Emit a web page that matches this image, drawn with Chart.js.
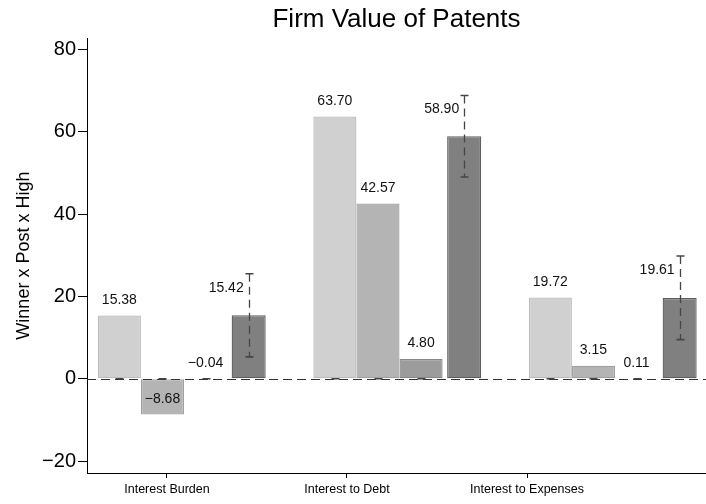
<!DOCTYPE html>
<html><head><meta charset="utf-8">
<script src="https://cdn.jsdelivr.net/npm/chart.js@4.4.1/dist/chart.umd.min.js"></script>
<style>html,body{margin:0;padding:0;background:#fff}#wrap{width:706px;height:504px}</style>
</head><body><div id="wrap"><canvas id="c" width="706" height="504"></canvas></div>
<script>
const categories = ['Interest Burden', 'Interest to Debt', 'Interest to Expenses'];
const series1 = [15.38, 63.70, 19.72];
const series2 = [-8.68, 42.57, 3.15];
const series3 = [-0.04, 4.80, 0.11];
const series4 = [15.42, 58.90, 19.61];
const ciLow1 = [0, 0, 0],  ciHigh1 = [0, 0, 0];
const ciLow2 = [0, 0, 0],  ciHigh2 = [0, 0, 0];
const ciLow3 = [0, 0, 0],  ciHigh3 = [0, 0, 0];
const ciLow4 = [5.3, 49.0, 9.5];
const ciHigh4 = [25.5, 68.8, 29.8];
const yTicks = [-20, 0, 20, 40, 60, 80];

const FONT = "'Liberation Sans', Arial, Helvetica, sans-serif";
const allSeries = [series1, series2, series3, series4];
const allLow = [ciLow1, ciLow2, ciLow3, ciLow4];
const allHigh = [ciHigh1, ciHigh2, ciHigh3, ciHigh4];
const fills = ['#d0d0d0', '#b4b4b4', '#9c9c9c', '#808080'];
const borders = ['#bcbcbc', '#a0a0a0', '#888888', '#5e5e5e'];
const barPct = [1, 1, 1, 0.79];

const fmt = v => { const s = Math.abs(v).toFixed(2); return v < 0 ? '\u2212' + s : s; };

const overlay = {
  id: 'overlay',
  afterDatasetsDraw(chart) {
    const ctx = chart.ctx, ys = chart.scales.y, area = chart.chartArea;
    ctx.save();
    const y0 = Math.round(ys.getPixelForValue(0)) + 0.5;
    ctx.strokeStyle = '#333'; ctx.lineWidth = 1; ctx.setLineDash([9, 5]);
    ctx.beginPath(); ctx.moveTo(area.left, y0); ctx.lineTo(area.right, y0); ctx.stroke();
    chart.data.datasets.forEach((ds, d) => {
      const meta = chart.getDatasetMeta(d);
      meta.data.forEach((bar, i) => {
        const x = Math.round(bar.x) + 0.5;
        const yl = ys.getPixelForValue(allLow[d][i]);
        const yh = ys.getPixelForValue(allHigh[d][i]);
        ctx.strokeStyle = '#454545'; ctx.lineWidth = 1.3;
        if (Math.abs(yh - yl) > 1) {
          ctx.setLineDash([8, 5]);
          ctx.beginPath(); ctx.moveTo(x, yh); ctx.lineTo(x, yl); ctx.stroke();
        }
        ctx.setLineDash([]);
        ctx.lineWidth = 1.6;
        ctx.beginPath();
        ctx.moveTo(x - 4, yh); ctx.lineTo(x + 4, yh);
        ctx.moveTo(x - 4, yl); ctx.lineTo(x + 4, yl);
        ctx.stroke();
      });
    });
    ctx.setLineDash([]);
    ctx.font = '14px ' + FONT; ctx.fillStyle = '#111'; ctx.textBaseline = 'middle';
    chart.data.datasets.forEach((ds, d) => {
      const meta = chart.getDatasetMeta(d);
      meta.data.forEach((bar, i) => {
        const v = allSeries[d][i];
        if (d < 3) {
          ctx.textAlign = 'center';
          ctx.fillText(fmt(v), bar.x, ys.getPixelForValue(v) - 15.5);
        } else {
          ctx.textAlign = 'right';
          ctx.fillText(fmt(v), bar.x - 5, ys.getPixelForValue(allHigh[d][i]) + 14);
        }
      });
    });
    ctx.restore();
  }
};

const datasets = allSeries.map((s, d) => ({
  label: 'Series ' + (d + 1),
  data: s.map((v, i) => ({ x: i, y: v })),
  backgroundColor: fills[d],
  borderColor: borders[d],
  borderWidth: 1.3,
  borderSkipped: false,
  barPercentage: barPct[d],
  categoryPercentage: 0.8,
  xAxisID: 'x',
  yAxisID: 'y'
}));

new Chart(document.getElementById('c'), {
  type: 'bar',
  data: { datasets },
  plugins: [overlay],
  options: {
    responsive: false,
    animation: false,
    devicePixelRatio: 1,
    layout: { padding: 0 },
    plugins: {
      legend: { display: false },
      tooltip: { enabled: false },
      title: {
        display: true,
        text: 'Firm Value of Patents',
        fullSize: false,
        color: '#000',
        font: { family: FONT, size: 26, weight: 'normal', lineHeight: 1.2 },
        padding: { top: 4, bottom: 3 }
      }
    },
    scales: {
      x: {
        type: 'linear',
        display: false,
        offset: false,
        grid: { offset: false },
        min: -0.4503,
        max: 2.4223,
        afterBuildTicks: s => { s.ticks = categories.map((_, i) => ({ value: i })); }
      },
      x2: {
        type: 'linear',
        position: 'bottom',
        offset: false,
        min: -0.4444,
        max: 2.9944,
        afterBuildTicks: s => { s.ticks = categories.map((_, i) => ({ value: i })); },
        afterFit: s => { s.height = 31; },
        border: { display: true, color: '#000', width: 1 },
        grid: { offset: false, drawOnChartArea: false, drawTicks: true, tickLength: 5, color: '#000' },
        ticks: {
          autoSkip: false, maxRotation: 0, padding: 4, color: '#000',
          font: { family: FONT, size: 12.5 },
          callback: v => categories[v] !== undefined ? categories[v] : ''
        }
      },
      y: {
        type: 'linear',
        min: -22.9,
        max: 82.7,
        afterBuildTicks: s => { s.ticks = yTicks.map(v => ({ value: v })); },
        afterFit: s => { s.width = 87; },
        border: { display: true, color: '#000', width: 1 },
        grid: { drawOnChartArea: false, drawTicks: true, tickLength: 9, color: '#000' },
        ticks: {
          padding: 2, color: '#000',
          font: { family: FONT, size: 20 },
          callback: v => v < 0 ? '\u2212' + Math.abs(v) : String(v)
        },
        title: {
          display: true,
          text: 'Winner x Post x High',
          color: '#000',
          font: { family: FONT, size: 18 },
          padding: { top: 13, bottom: 0 }
        }
      }
    }
  }
});
</script>
</body></html>
